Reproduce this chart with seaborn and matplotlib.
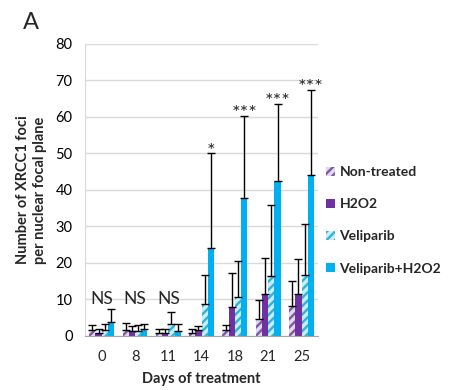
import numpy as np
import pandas as pd
import matplotlib
matplotlib.use('Agg')
import matplotlib.pyplot as plt
from matplotlib.patches import Patch
import seaborn as sns

# ---- data ----
days = ['0', '8', '11', '14', '18', '21', '25']
groups = ['Non-treated', 'H2O2', 'Veliparib', 'Veliparib+H2O2']
non_treated = [1.6, 1.6, 0.9, 0.9, 1.6, 4.7, 8.3]
non_treated_err = [1.4, 1.9, 0.9, 0.9, 1.3, 5.2, 6.7]
h2o2 = [0.9, 1.4, 0.9, 1.6, 8.0, 11.5, 11.5]
h2o2_err = [0.9, 1.4, 0.9, 1.2, 9.2, 9.9, 9.5]
veliparib = [1.6, 1.3, 3.3, 8.7, 10.8, 16.4, 16.6]
veliparib_err = [1.6, 1.6, 3.2, 7.9, 9.6, 19.5, 14.1]
vel_h2o2 = [3.9, 1.8, 1.5, 24.0, 37.7, 42.5, 44.1]
vel_h2o2_err = [3.4, 1.4, 1.7, 26.0, 22.6, 21.1, 23.3]
sig_labels = ['NS', 'NS', 'NS', '*', '***', '***', '***']
ns_level = 10
y_ticks = [0, 10, 20, 30, 40, 50, 60, 70, 80]

values = [non_treated, h2o2, veliparib, vel_h2o2]
errors = [non_treated_err, h2o2_err, veliparib_err, vel_h2o2_err]

rows = []
for g, vals in zip(groups, values):
    for d, v in zip(days, vals):
        rows.append({'day': d, 'value': v, 'group': g})
df = pd.DataFrame(rows)

# ---- style ----
sns.set_style('white')
plt.rcParams['font.family'] = ['Lato', 'DejaVu Sans']
plt.rcParams['hatch.linewidth'] = 1.7

face = {'Non-treated': '#E3D8EF', 'H2O2': '#7030A0',
        'Veliparib': '#C8EEF9', 'Veliparib+H2O2': '#00B0F0'}
hatch_col = {'Non-treated': '#7B5AA8', 'Veliparib': '#30B3D8'}

fig = plt.figure(figsize=(4.5, 3.9), dpi=100)
ax = fig.add_axes([0.189, 0.1385, 0.518, 0.749])

sns.barplot(data=df, x='day', y='value', hue='group', hue_order=groups,
            order=days, palette=face, width=0.75, gap=0, errorbar=None,
            saturation=1, legend=False, ax=ax, zorder=2)
bar_conts = list(ax.containers)

for g, cont, err in zip(groups, bar_conts, errors):
    xs, tops = [], []
    for p in cont.patches:
        p.set_linewidth(0)
        if g in hatch_col:
            p.set_hatch('////')
            p.set_edgecolor(hatch_col[g])
        xs.append(p.get_x() + p.get_width() / 2)
        tops.append(p.get_height())
    ax.errorbar(xs, tops, yerr=[np.zeros(len(err)), err], fmt='none',
                ecolor='black', elinewidth=1, capsize=3.2, capthick=1, zorder=3)

# significance labels
last = bar_conts[-1]
for i, (lab, p) in enumerate(zip(sig_labels, last.patches)):
    if lab == 'NS':
        ax.text(i, ns_level, lab, ha='center', va='center', fontsize=12.5, zorder=4)
    else:
        cap = values[-1][i] + errors[-1][i]
        ax.annotate(lab, (p.get_x() + p.get_width() / 2, cap), xytext=(0, -4.5),
                    textcoords='offset points', ha='center', va='bottom',
                    fontsize=14.5, zorder=4)

ax.set_ylim(0, 80)
ax.set_xlim(-0.5, len(days) - 0.5)
ax.set_yticks(y_ticks)
ax.yaxis.grid(True, color='#D9D9D9', lw=1)
ax.set_axisbelow(True)
for s in ['top', 'right']:
    ax.spines[s].set_visible(False)
ax.spines['left'].set_color('#D9D9D9')
ax.spines['bottom'].set_color('#A6A6A6')
ax.tick_params(axis='y', length=0, pad=9, labelsize=10.5, colors='black')
ax.tick_params(axis='x', which='major', length=0, pad=10, labelsize=10.5)
ax.set_xticks(np.arange(-0.5, len(days)), minor=True)
ax.tick_params(axis='x', which='minor', length=4, color='#A6A6A6', width=1)

ax.set_xlabel('Days of treatment', fontsize=10.5, fontweight='bold', labelpad=6)
ax.set_ylabel('Number of XRCC1 foci\nper nuclear focal plane', fontsize=10.5,
              fontweight='bold', labelpad=6, linespacing=1.3)

handles = []
for g in groups:
    if g in hatch_col:
        handles.append(Patch(facecolor=face[g], edgecolor=hatch_col[g], hatch='////', lw=0, label=g))
    else:
        handles.append(Patch(facecolor=face[g], lw=0, label=g))
fig.legend(handles=handles, loc='center left', bbox_to_anchor=(0.725, 0.435),
           frameon=False, prop={'weight': 'bold', 'size': 10},
           borderpad=0, borderaxespad=0,
           handlelength=0.6, handleheight=0.6, handletextpad=0.35, labelspacing=1.45)

fig.text(0.05, 0.925, 'A', fontsize=17)

fig.savefig('out.png', dpi=100)
